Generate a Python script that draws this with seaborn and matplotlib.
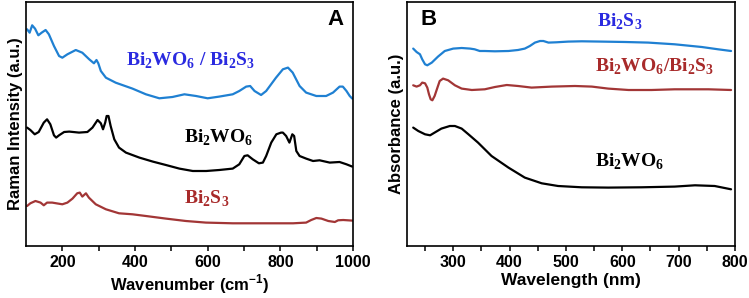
import numpy as np
import pandas as pd
import matplotlib
matplotlib.use("Agg")
import matplotlib.pyplot as plt
import seaborn as sns

# ---------------- data (arbitrary units) ----------------
# Panel A: Raman spectra
raman_composite_x = [103, 110, 117, 125, 134, 143, 154, 163, 177, 191, 200, 214, 237, 255, 274,
                     287, 294, 299, 306, 320, 347, 393, 430, 467, 503, 536, 568, 600, 632, 669,
                     687, 706, 717, 729, 747, 761, 788, 807, 821, 834, 853, 871, 899, 926, 945,
                     963, 972, 982, 991, 998]
raman_composite_y = [216.7, 213.3, 220.7, 217.3, 210.7, 213.3, 216.0, 211.7, 200.0, 190.0, 188.3,
                     191.7, 196.0, 193.3, 186.7, 182.7, 186.0, 182.7, 175.0, 168.3, 163.3, 157.4,
                     151.7, 147.7, 149.0, 151.7, 150.0, 147.7, 149.4, 151.7, 155.0, 159.4, 160.0,
                     155.0, 151.0, 155.0, 168.3, 176.7, 178.4, 173.4, 160.0, 153.4, 150.0, 150.0,
                     153.4, 159.4, 159.4, 155.0, 150.0, 147.4]

raman_bwo_x = [103, 112, 124, 135, 149, 158, 167, 177, 183, 191, 205, 219, 246, 269, 283, 297,
               306, 312, 318, 322, 327, 333, 343, 356, 375, 412, 449, 485, 522, 559, 596, 632,
               669, 687, 701, 710, 724, 741, 752, 761, 775, 789, 802, 807, 816, 825, 833, 838,
               844, 853, 871, 890, 908, 936, 963, 982, 998]
raman_bwo_y = [118.4, 116.0, 111.7, 114.0, 123.4, 126.7, 121.7, 110.7, 108.4, 110.7, 114.0, 114.4,
               113.4, 114.0, 118.4, 126.0, 122.7, 116.7, 123.4, 130.0, 130.0, 120.0, 106.7, 98.4,
               93.4, 88.4, 84.4, 81.0, 77.4, 75.0, 75.0, 76.0, 77.4, 81.7, 90.0, 90.7, 86.7, 82.7,
               83.4, 90.0, 103.4, 111.7, 113.4, 113.4, 110.0, 103.4, 111.7, 110.0, 95.0, 90.0,
               87.4, 85.0, 85.7, 83.4, 84.0, 81.7, 79.4]

raman_bs_x = [103, 112, 126, 140, 149, 158, 172, 200, 214, 228, 241, 248, 255, 262, 265, 273,
              292, 320, 356, 393, 430, 485, 540, 595, 669, 761, 835, 871, 885, 899, 913, 932,
              950, 959, 973, 998]
raman_bs_y = [40.0, 42.7, 45.0, 43.4, 40.7, 43.4, 43.4, 41.7, 43.4, 47.4, 52.7, 53.4, 49.4, 51.7,
              52.7, 48.4, 41.7, 36.7, 32.7, 31.7, 30.0, 27.4, 25.0, 23.4, 22.7, 22.7, 22.7, 23.4,
              26.0, 28.0, 27.4, 25.0, 24.0, 25.7, 26.0, 25.4]

# Panel B: UV-vis absorbance
abs_bs_x = [229, 235, 241, 245, 250, 254, 262, 273, 285, 300, 315, 330, 338, 347, 356, 374, 398,
            415, 427, 436, 445, 454, 460, 469, 483, 504, 528, 563, 605, 646, 693, 741, 770, 793]
abs_bs_y = [197.4, 194.0, 191.7, 186.7, 181.7, 180.7, 183.4, 189.4, 195.0, 197.4, 198.0, 197.4,
            196.7, 195.0, 195.0, 194.7, 195.0, 196.0, 197.4, 200.0, 203.4, 205.0, 205.0, 203.4,
            203.7, 204.4, 204.7, 204.4, 204.0, 203.4, 201.7, 199.0, 196.7, 195.0]

abs_comp_x = [229, 235, 241, 245, 250, 254, 257, 260, 263, 267, 272, 276, 282, 291, 303, 315, 333,
              356, 374, 395, 415, 439, 475, 516, 546, 575, 611, 652, 693, 753, 793]
abs_comp_y = [160.7, 159.4, 160.7, 163.4, 162.7, 158.4, 151.7, 146.7, 145.7, 150.0, 158.4, 165.0,
              167.4, 165.7, 160.7, 157.4, 156.0, 156.7, 159.0, 161.0, 160.0, 158.4, 159.4, 160.0,
              159.4, 157.4, 156.0, 156.0, 156.7, 156.7, 156.0]

abs_bwo_x = [229, 238, 250, 259, 267, 279, 294, 303, 315, 327, 344, 368, 398, 427, 457, 486, 528,
             575, 634, 693, 729, 764, 793]
abs_bwo_y = [118.4, 115.0, 111.7, 110.7, 113.4, 117.4, 120.0, 120.0, 117.4, 111.7, 103.4, 90.0,
             78.4, 68.4, 62.7, 60.0, 58.7, 58.4, 58.7, 59.4, 60.7, 60.0, 56.7]

BLUE = "#1f80d2"
RED = "#a23636"
BLACK = "#000000"
BLUE_TXT = "#2a2ae0"
RED_TXT = "#a82a2a"

sns.set_style("ticks")
plt.rcParams["font.family"] = ["Liberation Sans", "DejaVu Sans"]
plt.rcParams["font.weight"] = "bold"
plt.rcParams["axes.labelweight"] = "bold"
plt.rcParams["mathtext.fontset"] = "custom"
plt.rcParams["mathtext.rm"] = "Liberation Serif:bold"
plt.rcParams["mathtext.bf"] = "Liberation Serif:bold"
plt.rcParams["mathtext.sf"] = "Liberation Sans:bold"
plt.rcParams["axes.linewidth"] = 1.2
plt.rcParams["text.color"] = "black"
plt.rcParams["axes.labelcolor"] = "black"
plt.rcParams["axes.edgecolor"] = "black"
plt.rcParams["xtick.color"] = "black"
plt.rcParams["ytick.color"] = "black"

fig = plt.figure(figsize=(7.49, 2.98), dpi=100)
axA = fig.add_axes([0.0347, 0.1745, 0.4366, 0.8188])
axB = fig.add_axes([0.5434, 0.1745, 0.4379, 0.8188])

def draw(ax, x, y, color):
    df = pd.DataFrame({"x": x, "y": y})
    sns.lineplot(data=df, x="x", y="y", ax=ax, color=color, lw=1.6, sort=False)

draw(axA, raman_composite_x, raman_composite_y, BLUE)
draw(axA, raman_bwo_x, raman_bwo_y, BLACK)
draw(axA, raman_bs_x, raman_bs_y, RED)

draw(axB, abs_bs_x, abs_bs_y, BLUE)
draw(axB, abs_comp_x, abs_comp_y, RED)
draw(axB, abs_bwo_x, abs_bwo_y, BLACK)

serif = dict(family="Liberation Serif", fontweight="bold", fontsize=14)

axA.text(376, 184.7, r"Bi$_2$WO$_6$ / Bi$_2$S$_3$", color=BLUE_TXT, va="center", ha="left", **serif)
axA.text(535, 107.7, r"Bi$_2$WO$_6$", color=BLACK, va="center", ha="left", **serif)
axA.text(535, 46.7, r"Bi$_2$S$_3$", color=RED_TXT, va="center", ha="left", **serif)
axA.text(0.97, 0.93, "A", transform=axA.transAxes, ha="right", va="center",
         fontsize=16, fontweight="bold")

axB.text(555, 223.7, r"Bi$_2$S$_3$", color=BLUE_TXT, va="center", ha="left", **serif)
axB.text(551, 178.7, r"Bi$_2$WO$_6$/Bi$_2$S$_3$", color=RED_TXT, va="center", ha="left", **serif)
axB.text(551, 83.7, r"Bi$_2$WO$_6$", color=BLACK, va="center", ha="left", **serif)
axB.text(0.04, 0.93, "B", transform=axB.transAxes, ha="left", va="center",
         fontsize=16, fontweight="bold")

axA.set_xlim(100, 1000)
axA.set_xticks([200, 400, 600, 800, 1000])
axA.set_xticks([300, 500, 700, 900], minor=True)
axB.set_xlim(218, 800)
axB.set_xticks([300, 400, 500, 600, 700, 800])
axB.set_xticks([250, 350, 450, 550, 650, 750], minor=True)

for ax in (axA, axB):
    ax.set_ylim(0, 244)
    ax.set_yticks([])
    for s in ax.spines.values():
        s.set_visible(True)
        s.set_linewidth(1.2)
        s.set_color("black")
    ax.tick_params(axis="x", which="both", direction="out", length=3.5, width=1.1,
                   labelsize=11.5, pad=3, colors="black")

axA.set_xlabel(r"Wavenumber (cm$^{\mathsf{-1}}$)", fontsize=12, labelpad=2)
axA.set_ylabel("Raman Intensity (a.u.)", fontsize=12, labelpad=2)
axB.set_xlabel("Wavelength (nm)", fontsize=12.5, labelpad=2)
axB.set_ylabel("Absorbance (a.u.)", fontsize=12, labelpad=2)

for ax in (axA, axB):
    for t in ax.get_xticklabels():
        t.set_fontweight("bold")

fig.savefig("out.png", dpi=100)
